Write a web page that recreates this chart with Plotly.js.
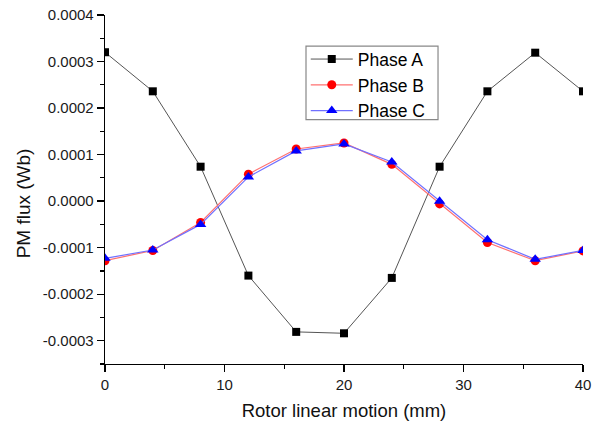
<!DOCTYPE html>
<html>
<head>
<meta charset="utf-8">
<script src="https://cdn.plot.ly/plotly-3.0.1.min.js"></script>
<style>
  html, body { margin: 0; padding: 0; background: #fff; }
  #chart { width: 602px; height: 425px; }
</style>
</head>
<body>
<div id="chart"></div>
<script>
// Rotor position (mm)
const position = [0, 4, 8, 12, 16, 20, 24, 28, 32, 36, 40];

// PM flux linkage per phase (Wb)
const phaseA = [0.000320, 0.000236, 0.000074, -0.000160, -0.000281, -0.000284, -0.000165, 0.000074, 0.000236, 0.000319, 0.000236];
const phaseB = [-0.000128, -0.000106, -0.000046, 0.000058, 0.000112, 0.000125, 0.000079, -0.000006, -0.000089, -0.000128, -0.000107];
const phaseC = [-0.000123, -0.000105, -0.000050, 0.000052, 0.000108, 0.000123, 0.000084, 0.000000, -0.000083, -0.000125, -0.000106];

// Axis tick values and their labels
const yTickVals = [-0.0003, -0.0002, -0.0001, 0, 0.0001, 0.0002, 0.0003, 0.0004];
const yTickText = ["-0.0003", "-0.0002", "-0.0001", "0.0000", "0.0001", "0.0002", "0.0003", "0.0004"];
const xTickVals = [0, 10, 20, 30, 40];
const xTickText = ["0", "10", "20", "30", "40"];

const font = "Arial, 'Liberation Sans', sans-serif";

const traces = [
  {
    x: position, y: phaseA, name: "Phase A", type: "scatter", mode: "lines+markers",
    line: { color: "#555555", width: 1 },
    marker: { symbol: "square", size: 8, color: "#000000" }
  },
  {
    x: position, y: phaseB, name: "Phase B", type: "scatter", mode: "lines+markers",
    line: { color: "#ff7070", width: 1.2 },
    marker: { symbol: "circle", size: 9, color: "#ff0000" }
  },
  {
    x: position, y: phaseC, name: "Phase C", type: "scatter", mode: "lines+markers",
    line: { color: "#7070ff", width: 1.2 },
    marker: { symbol: "triangle-up", size: 10, color: "#0000ff" }
  }
];

const axisCommon = {
  showgrid: false, zeroline: false, showline: true,
  linecolor: "#000", linewidth: 1.3,
  ticks: "outside", ticklen: 7, tickwidth: 1.3, tickcolor: "#000",
  tickfont: { family: font, size: 15, color: "#1a1a1a" },
  mirror: false
};

const layout = {
  width: 602, height: 425,
  margin: { l: 105, r: 19, t: 15, b: 61 },
  paper_bgcolor: "#ffffff", plot_bgcolor: "#ffffff",
  showlegend: true,
  legend: {
    x: 0.42, y: 0.925, xanchor: "left", yanchor: "top",
    bgcolor: "rgba(0,0,0,0)", borderwidth: 0,
    font: { family: font, size: 17.5, color: "#000" },
    tracegroupgap: 0, itemwidth: 42
  },
  // tight frame around the legend entries
  shapes: [{
    type: "rect", xref: "paper", yref: "paper",
    x0: 0.4205, x1: 0.6967, y0: 0.700, y1: 0.911,
    line: { color: "#888888", width: 1.2 }, fillcolor: "rgba(0,0,0,0)", layer: "above"
  }],
  xaxis: Object.assign({}, axisCommon, {
    range: [0, 40],
    tickmode: "array", tickvals: xTickVals, ticktext: xTickText,
    minor: { dtick: 5, tick0: 0, ticks: "outside", ticklen: 4, tickwidth: 1.2, tickcolor: "#000" },
    title: { text: "Rotor linear motion (mm)", font: { family: font, size: 18.5, color: "#111" }, standoff: 11 }
  }),
  yaxis: Object.assign({}, axisCommon, {
    range: [-0.00035, 0.0004],
    tickmode: "array", tickvals: yTickVals, ticktext: yTickText,
    minor: { dtick: 0.00005, tick0: 0, ticks: "outside", ticklen: 4, tickwidth: 1.2, tickcolor: "#000" }
  }),
  // y-axis title placed as an annotation so it sits slightly below the plot centre
  annotations: [{
    text: "PM flux (Wb)", textangle: -90, showarrow: false,
    xref: "paper", yref: "paper", x: -0.171, y: 0.461,
    xanchor: "center", yanchor: "middle",
    font: { family: font, size: 19, color: "#111" }
  }]
};

Plotly.newPlot("chart", traces, layout, { displayModeBar: false, staticPlot: true });
</script>
</body>
</html>
